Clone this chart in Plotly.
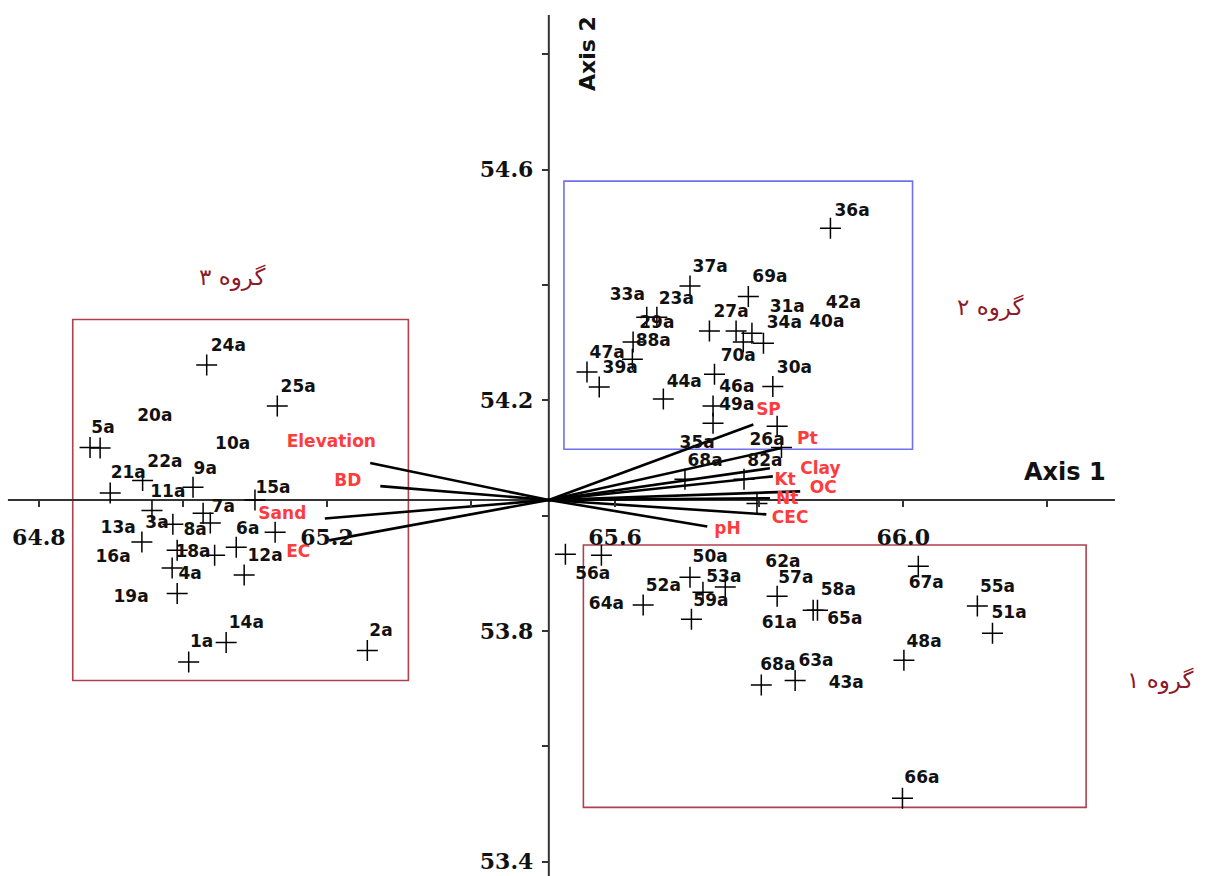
import plotly.graph_objects as go

# ---------------- data ----------------
# sample score markers (+)
pt_x = [65.033, 65.131, 64.871, 64.885, 64.899, 64.944, 65.014, 64.957, 65.028, 65.038,
        64.986, 65.128, 64.943, 64.992, 65.044, 65.074, 64.985, 65.085, 64.992, 65.060,
        65.008, 65.256, 65.100,
        65.899, 65.704, 65.785, 65.644, 65.658, 65.731, 65.768, 65.790, 65.778, 65.806,
        65.625, 65.624, 65.561, 65.578, 65.738, 65.819, 65.667, 65.736, 65.736, 65.825,
        65.831, 65.697, 65.779, 65.797,
        65.531, 65.581, 65.704, 65.722, 65.753, 65.639, 65.706, 65.825, 65.875, 65.881,
        66.021, 66.103, 66.124, 66.001, 65.803, 65.850, 65.999]
pt_y = [54.261, 54.190, 54.118, 54.117, 54.039, 54.061, 54.049, 54.009, 54.004, 53.987,
        53.985, 53.971, 53.954, 53.940, 53.931, 53.945, 53.909, 53.897, 53.865, 53.780,
        53.746, 53.766, 54.027,
        54.498, 54.398, 54.380, 54.344, 54.344, 54.320, 54.320, 54.316, 54.301, 54.299,
        54.301, 54.271, 54.249, 54.223, 54.245, 54.224, 54.202, 54.190, 54.160, 54.155,
        54.118, 54.063, 54.063, 54.021,
        53.933, 53.931, 53.893, 53.867, 53.876, 53.845, 53.820, 53.860, 53.836, 53.836,
        53.912, 53.843, 53.796, 53.749, 53.706, 53.714, 53.510]

# sample labels
lab_text = ["24a", "25a", "5a", "20a", "10a", "22a", "9a", "21a", "11a", "15a", "7a", "13a",
            "3a", "8a", "6a", "16a", "18a", "4a", "12a", "19a", "14a", "1a", "2a",
            "36a", "37a", "69a", "33a", "23a", "27a", "31a", "42a", "34a", "40a", "29a",
            "88a", "47a", "39a", "70a", "30a", "44a", "46a", "49a", "35a", "26a", "68a", "82a",
            "56a", "50a", "62a", "53a", "52a", "57a", "58a", "67a", "55a", "64a", "59a",
            "65a", "51a", "61a", "48a", "68a", "63a", "43a", "66a"]
lab_x = [65.063, 65.160, 64.889, 64.961, 65.069, 64.975, 65.031, 64.924, 64.979, 65.125,
         65.056, 64.910, 64.964, 65.017, 65.090, 64.903, 65.014, 65.010, 65.114, 64.928,
         65.088, 65.026, 65.275,
         65.929, 65.732, 65.815, 65.617, 65.685, 65.761, 65.839, 65.917, 65.835, 65.894,
         65.658, 65.653, 65.589, 65.607, 65.771, 65.849, 65.696, 65.769, 65.769, 65.714,
         65.811, 65.725, 65.808,
         65.569, 65.732, 65.833, 65.751, 65.667, 65.851, 65.910, 66.032, 66.131, 65.588,
         65.733, 65.919, 66.147, 65.828, 66.029, 65.826, 65.879, 65.921, 66.026]
lab_y = [54.292, 54.221, 54.151, 54.171, 54.122, 54.092, 54.079, 54.072, 54.040, 54.047,
         54.014, 53.978, 53.985, 53.973, 53.976, 53.926, 53.936, 53.897, 53.929, 53.858,
         53.813, 53.779, 53.798,
         54.526, 54.429, 54.412, 54.382, 54.375, 54.351, 54.360, 54.368, 54.332, 54.334,
         54.332, 54.301, 54.280, 54.254, 54.275, 54.254, 54.231, 54.221, 54.190, 54.125,
         54.129, 54.094, 54.094,
         53.897, 53.926, 53.919, 53.893, 53.877, 53.891, 53.869, 53.881, 53.874, 53.846,
         53.851, 53.820, 53.829, 53.812, 53.780, 53.739, 53.746, 53.709, 53.543]

# environmental variable vectors
origin_x, origin_y = 65.508, 54.027
var_names = ["Elevation", "BD", "Sand", "EC", "SP", "Pt", "Clay", "Kt", "OC", "Nt", "CEC", "pH"]
var_end_x = [65.260, 65.274, 65.197, 65.203, 65.792, 65.831, 65.815, 65.819, 65.857, 65.815, 65.810, 65.728]
var_end_y = [54.091, 54.051, 53.995, 53.957, 54.158, 54.117, 54.082, 54.068, 54.042, 54.030, 54.002, 53.981]
var_lab_x = [65.206, 65.229, 65.138, 65.160, 65.813, 65.867, 65.885, 65.836, 65.889, 65.839, 65.843, 65.756]
var_lab_y = [54.127, 54.058, 54.001, 53.935, 54.181, 54.131, 54.080, 54.060, 54.046, 54.027, 53.994, 53.976]

# group boxes  (x0, x1, y0, y1) and labels
group_names = ["گروه ۳", "گروه ۲", "گروه ۱"]
group_x0 = [64.847, 65.529, 65.556]
group_x1 = [65.313, 66.013, 66.254]
group_y0 = [53.714, 54.115, 53.494]
group_y1 = [54.340, 54.580, 53.949]
group_colors = ["#b04050", "#7070ee", "#b04050"]
group_lab_x = [65.069, 66.121, 66.357]
group_lab_y = [54.412, 54.361, 53.714]

# axis ticks
x_tickvals = [64.8, 65.0, 65.2, 65.4, 65.6, 65.8, 66.0, 66.2]
x_ticktext = ["64.8", "", "65.2", "", "65.6", "", "66.0", ""]
y_tickvals = [53.4, 53.6, 53.8, 54.0, 54.2, 54.4, 54.6, 54.8]
y_ticktext = ["53.4", "", "53.8", "", "54.2", "", "54.6", ""]

X_RANGE = [64.746, 66.426]
Y_RANGE = [53.375, 54.894]

# ---------------- figure ----------------
fig = go.Figure()

# vectors
vx, vy = [], []
for ex, ey in zip(var_end_x, var_end_y):
    vx += [origin_x, ex, None]
    vy += [origin_y, ey, None]
fig.add_trace(go.Scatter(x=vx, y=vy, mode="lines",
                         line=dict(color="black", width=2.6), hoverinfo="skip"))

# sample markers
fig.add_trace(go.Scatter(x=pt_x, y=pt_y, mode="markers",
                         marker=dict(symbol="cross-thin", size=15, color="black",
                                     line=dict(color="black", width=1.5)),
                         hoverinfo="skip"))
# sample labels
fig.add_trace(go.Scatter(x=lab_x, y=lab_y, mode="text", text=lab_text,
                         textposition="middle center",
                         textfont=dict(family="DejaVu Sans", size=17, color="#111111", weight="bold"),
                         hoverinfo="skip"))
# variable labels
fig.add_trace(go.Scatter(x=var_lab_x, y=var_lab_y, mode="text", text=var_names,
                         textposition="middle center",
                         textfont=dict(family="DejaVu Sans", size=17, color="#ff3c3c", weight="bold"),
                         hoverinfo="skip"))

shapes = []
# group rectangles
for x0, x1, y0, y1, c in zip(group_x0, group_x1, group_y0, group_y1, group_colors):
    shapes.append(dict(type="rect", xref="x", yref="y", x0=x0, x1=x1, y0=y0, y1=y1,
                       line=dict(color=c, width=1.6), fillcolor="rgba(0,0,0,0)", layer="below"))
# axis lines
shapes.append(dict(type="line", xref="x", yref="y", x0=64.757, x1=66.294, y0=origin_y, y1=origin_y,
                   line=dict(color="#333333", width=2), layer="below"))
shapes.append(dict(type="line", xref="x", yref="y", x0=origin_x, x1=origin_x, y0=Y_RANGE[0], y1=54.868,
                   line=dict(color="#333333", width=2), layer="below"))

annotations = []
for t, x, y in zip(group_names, group_lab_x, group_lab_y):
    annotations.append(dict(text=t, x=x, y=y, xref="x", yref="y", showarrow=False,
                            font=dict(family="DejaVu Sans", size=23, color="#8b1a2a")))
annotations.append(dict(text="<b>Axis 1</b>", x=66.225, y=54.075, xref="x", yref="y", showarrow=False,
                        font=dict(family="DejaVu Sans", size=24, color="#111111")))
annotations.append(dict(text="<b>Axis 2</b>", x=65.561, y=54.802, xref="x", yref="y", showarrow=False,
                        textangle=-90, font=dict(family="DejaVu Sans", size=22, color="#111111")))

fig.update_layout(
    width=1210, height=876,
    margin=dict(l=0, r=0, t=0, b=0),
    paper_bgcolor="white", plot_bgcolor="white",
    showlegend=False,
    shapes=shapes, annotations=annotations,
    xaxis=dict(range=X_RANGE, domain=[0, 1], anchor="free", position=(origin_y - Y_RANGE[0]) / (Y_RANGE[1] - Y_RANGE[0]),
               showgrid=False, zeroline=False, showline=False,
               tickmode="array", tickvals=x_tickvals, ticktext=x_ticktext,
               ticks="outside", ticklen=6, tickwidth=2, tickcolor="#333333",
               ticklabelstandoff=12,
               tickfont=dict(family="DejaVu Serif", size=22, color="#111111", weight="bold")),
    yaxis=dict(range=Y_RANGE, domain=[0, 1], anchor="free", position=(origin_x - X_RANGE[0]) / (X_RANGE[1] - X_RANGE[0]),
               showgrid=False, zeroline=False, showline=False,
               tickmode="array", tickvals=y_tickvals, ticktext=y_ticktext,
               ticks="outside", ticklen=7, tickwidth=2, tickcolor="#333333",
               ticklabelstandoff=4,
               tickfont=dict(family="DejaVu Serif", size=22, color="#111111", weight="bold")),
)

fig.write_html("out.html", config={"displayModeBar": False},
               post_script="document.body.style.margin='0';document.body.style.overflow='hidden';")
